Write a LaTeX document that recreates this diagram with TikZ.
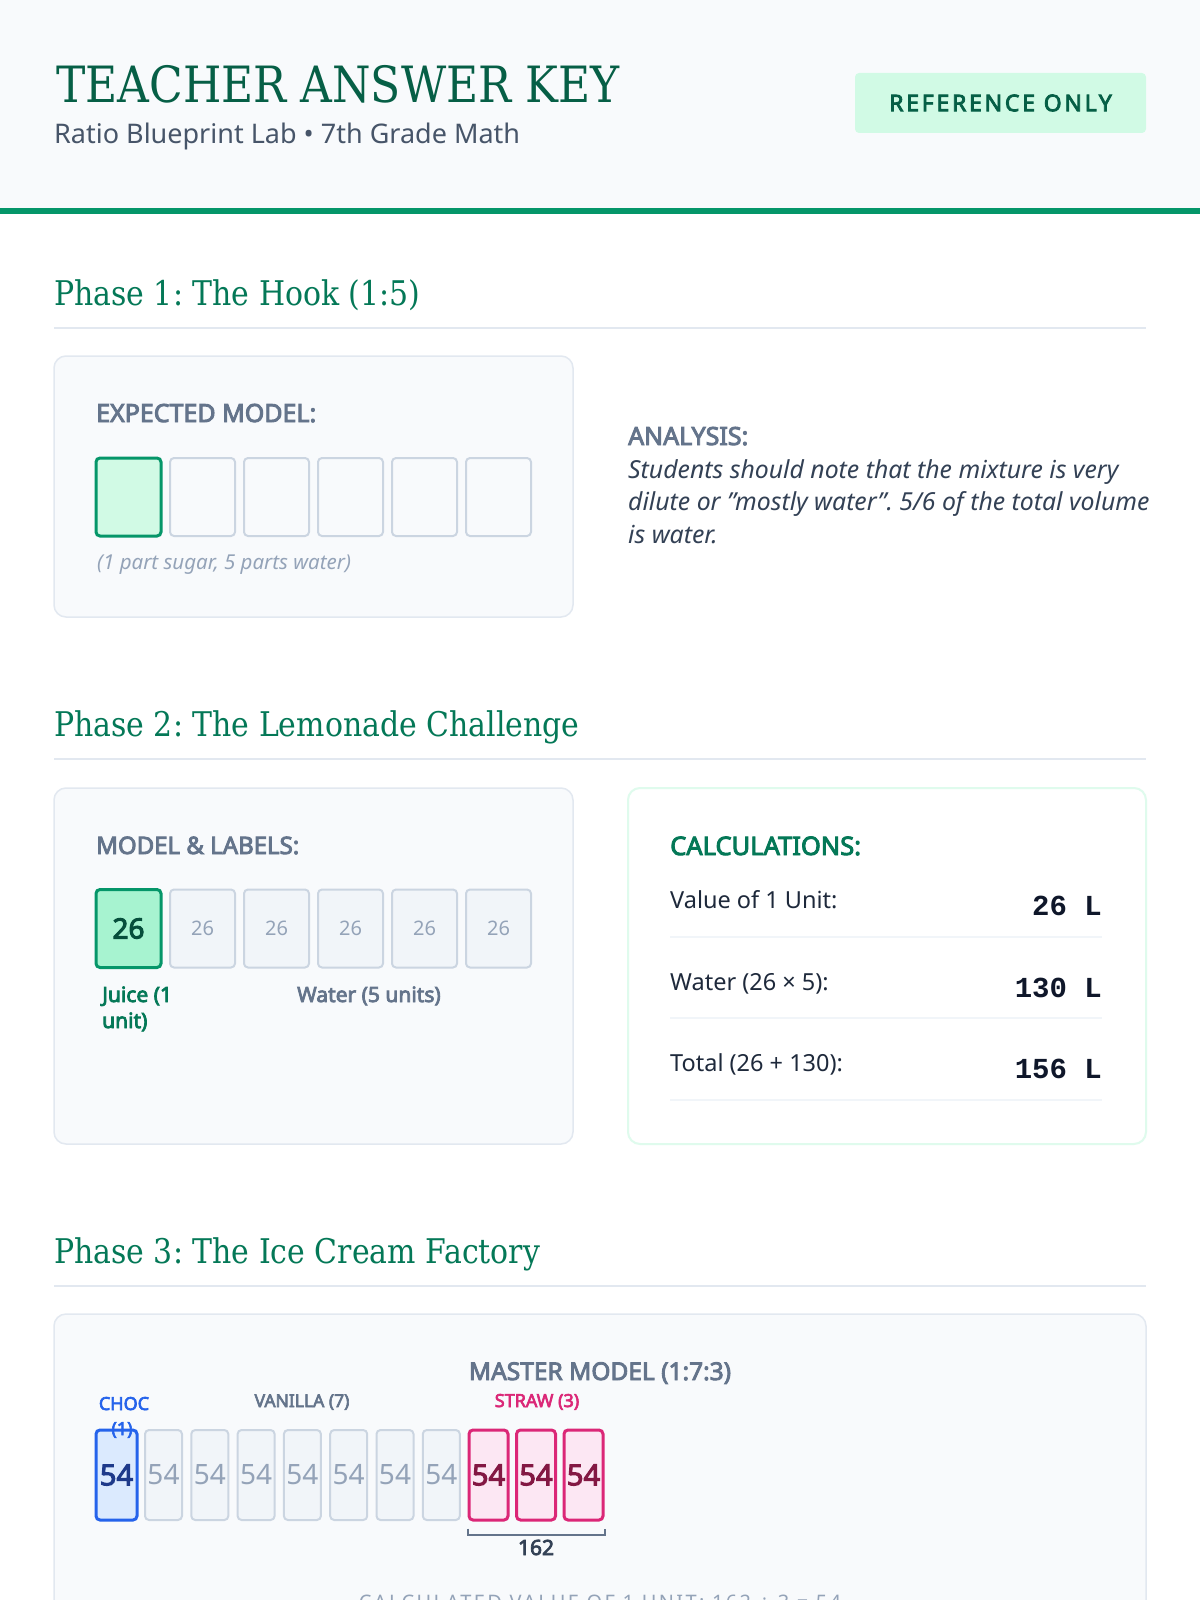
\documentclass[tikz,border=0pt]{standalone}
\usepackage{fontspec}
\setmainfont{Noto Sans}[AutoFakeBold=3.6]
\newfontfamily\slabfont[FakeStretch=0.88]{DejaVu Serif}
\newfontfamily\valfont{Liberation Mono}
\newfontfamily\trackfont[LetterSpace=12,AutoFakeBold=3.6]{Noto Sans}
\newcommand\fsz[1]{\fontsize{#1}{#1}\selectfont}
\frenchspacing

\definecolor{headbg}{HTML}{F8FAFC}
\definecolor{brandgreen}{HTML}{059669}
\definecolor{inkgreen}{HTML}{065F46}
\definecolor{titlegreen}{HTML}{047857}
\definecolor{rulegray}{HTML}{E2E8F0}
\definecolor{cardbg}{HTML}{F8FAFC}
\definecolor{slate}{HTML}{64748B}
\definecolor{subslate}{HTML}{475569}
\definecolor{bodyslate}{HTML}{334155}
\definecolor{mint}{HTML}{D1FAE5}
\definecolor{mintdeep}{HTML}{A7F3D0}
\definecolor{darkmint}{HTML}{064E3B}
\definecolor{calcink}{HTML}{1E293B}
\definecolor{valink}{HTML}{0F172A}
\definecolor{boxgray}{HTML}{F1F5F9}
\definecolor{boxline}{HTML}{CBD5E1}
\definecolor{numgray}{HTML}{94A3B8}
\definecolor{chocblue}{HTML}{2563EB}
\definecolor{chocfill}{HTML}{DBEAFE}
\definecolor{chocink}{HTML}{1E3A8A}
\definecolor{strawpink}{HTML}{DB2777}
\definecolor{strawfill}{HTML}{FCE7F3}
\definecolor{strawink}{HTML}{831843}

\begin{document}
\begin{tikzpicture}[x=1pt,y=-1pt,
    lbl/.style={inner sep=0pt,anchor=base west},
    phase/.style={lbl,text=titlegreen,font=\slabfont\fsz{34}},
    cardlabel/.style={lbl,text=slate,font=\bfseries\fsz{24}},
    card/.style={draw=rulegray,fill=cardbg,line width=1.5pt,rounded corners=12pt},
    unit/.style={draw=boxline,line width=2pt,rounded corners=4pt,inner sep=0pt,
      minimum width=65pt,minimum height=78pt},
    sugar/.style={unit,draw=brandgreen,fill=mint,line width=3pt},
    water/.style={unit,fill=boxgray,text=numgray,font=\fsz{20}},
    juice/.style={unit,draw=brandgreen,fill=mintdeep,line width=3pt,
      text=darkmint,font=\bfseries\fsz{28}},
    calcrow/.style={lbl,text=calcink,font=\fsz{23.5}},
    calcval/.style={inner sep=0pt,anchor=base east,text=valink,font=\valfont\bfseries\fsz{29}},
    scoop/.style={draw=boxline,fill=boxgray,line width=2pt,rounded corners=4pt,inner sep=0pt,
      minimum width=37pt,minimum height=90pt,text=numgray,font=\fsz{28}},
    choc/.style={scoop,draw=chocblue,fill=chocfill,line width=3pt,minimum width=41pt,
      text=chocink,font=\bfseries\fsz{29}},
    straw/.style={scoop,draw=strawpink,fill=strawfill,line width=3pt,minimum width=39pt,
      text=strawink,font=\bfseries\fsz{29}},
    flavour/.style={inner sep=0pt,anchor=base,font=\bfseries\fsz{17.5}}]
  \useasboundingbox (0,0) rectangle (1200,1600);
  \fill[white] (0,0) rectangle (1200,1600);

  %% header
  \fill[headbg] (0,0) rectangle (1200,208);
  \fill[brandgreen] (0,208) rectangle (1200,214);
  \node[lbl,text=inkgreen,font=\slabfont\fsz{50}] (title) at (56,103) {TEACHER ANSWER KEY};
  \node[lbl,text=subslate,font=\fsz{27}] (subtitle) at (54,143) {Ratio Blueprint Lab • 7th Grade Math};
  \node[fill=mint,rounded corners=4pt,minimum width=291pt,minimum height=60pt,inner sep=0pt,
    text=inkgreen,font=\trackfont\bfseries\fsz{23}] (badge) at (1000.5,103) {REFERENCE ONLY};

  %% phase 1
  \node[phase] (p1) at (54,305) {Phase 1: The Hook (1:5)};
  \draw[rulegray,line width=2pt] (54,328) -- (1146,328);
  \draw[card] (54,356) rectangle (573,617);
  \node[cardlabel,font=\bfseries\fsz{25}] (expected) at (96,422) {EXPECTED MODEL:};
  \node[sugar] (h1) at (128.5,497) {};
  \node[unit] (h2) at (202.5,497) {};
  \node[unit] (h3) at (276.5,497) {};
  \node[unit] (h4) at (350.5,497) {};
  \node[unit] (h5) at (424.5,497) {};
  \node[unit] (h6) at (498.5,497) {};
  \node[lbl,text=numgray,font=\itshape\fsz{20.5}] (hooknote) at (97,569) {(1 part sugar, 5 parts water)};

  \node[cardlabel,font=\bfseries\fsz{25}] (analysis) at (628,445) {ANALYSIS:};
  \node[lbl,text=bodyslate,font=\itshape\fsz{24.8}] (an1) at (628,478) {Students should note that the mixture is very};
  \node[lbl,text=bodyslate,font=\itshape\fsz{24.8}] (an2) at (628,510.5) {dilute or "mostly water". 5/6 of the total volume};
  \node[lbl,text=bodyslate,font=\itshape\fsz{24.8}] (an3) at (628,543) {is water.};

  %% phase 2
  \node[phase] (p2) at (54,736) {Phase 2: The Lemonade Challenge};
  \draw[rulegray,line width=2pt] (54,759) -- (1146,759);
  \draw[card] (54,788) rectangle (573,1144);
  \node[cardlabel] (model) at (96,854) {MODEL \& LABELS:};
  \node[juice] (l1) at (128.5,928.5) {26};
  \node[water] (l2) at (202.5,928.5) {26};
  \node[water] (l3) at (276.5,928.5) {26};
  \node[water] (l4) at (350.5,928.5) {26};
  \node[water] (l5) at (424.5,928.5) {26};
  \node[water] (l6) at (498.5,928.5) {26};
  \node[lbl,text=titlegreen,font=\bfseries\fsz{21}] (juice1) at (102,1002) {Juice (1};
  \node[lbl,text=titlegreen,font=\bfseries\fsz{21}] (juice2) at (102,1028) {unit)};
  \node[lbl,text=slate,font=\bfseries\fsz{21}] (waterlbl) at (297,1002) {Water (5 units)};

  \draw[draw=mint!70,fill=white,line width=2pt,rounded corners=12pt] (628,788) rectangle (1146,1144);
  \node[lbl,text=titlegreen,font=\bfseries\fsz{25.5}] (calc) at (670,855) {CALCULATIONS:};
  \node[calcrow] (unitrow) at (670,908) {Value of 1 Unit:};
  \node[calcval] (unitval) at (1102,915) {26 L};
  \draw[boxgray,line width=2pt] (670,937) -- (1102,937);
  \node[calcrow] (waterrow) at (670,990) {Water (26 × 5):};
  \node[calcval] (waterval) at (1102,997) {130 L};
  \draw[boxgray,line width=2pt] (670,1018) -- (1102,1018);
  \node[calcrow] (totalrow) at (670,1071) {Total (26 + 130):};
  \node[calcval] (totalval) at (1102,1078) {156 L};
  \draw[boxgray,line width=2pt] (670,1100) -- (1102,1100);

  %% phase 3
  \node[phase] (p3) at (54,1263) {Phase 3: The Ice Cream Factory};
  \draw[rulegray,line width=2pt] (54,1286) -- (1146,1286);
  \draw[card] (54,1314) rectangle (1146,1660);
  \node[inner sep=0pt,anchor=base,text=slate,font=\bfseries\fsz{24.5}] (master) at (600,1380) {MASTER MODEL (1:7:3)};
  \node[flavour,text=slate] (vanlbl) at (302,1407) {VANILLA (7)};
  \node[flavour,text=strawpink,font=\bfseries\fsz{18}] (strawlbl) at (537,1407) {STRAW (3)};
  \node[choc] (c1) at (116.5,1475) {54};
  \node[scoop] (v1) at (163.5,1475) {54};
  \node[scoop] (v2) at (209.8,1475) {54};
  \node[scoop] (v3) at (256.1,1475) {54};
  \node[scoop] (v4) at (302.4,1475) {54};
  \node[scoop] (v5) at (348.7,1475) {54};
  \node[scoop] (v6) at (395,1475) {54};
  \node[scoop] (v7) at (441.3,1475) {54};
  \node[straw] (s1) at (488.5,1475) {54};
  \node[straw] (s2) at (536,1475) {54};
  \node[straw] (s3) at (583.5,1475) {54};
  \node[flavour,text=chocblue,font=\bfseries\fsz{18}] (choclbl) at (124,1410) {CHOC};
  \node[flavour,text=chocblue,font=\bfseries\fsz{18}] (choc1) at (122,1435) {(1)};
  \draw[slate,line width=2pt] ([yshift=-7pt]s1.south west) -- ([yshift=-13pt]s1.south west)
    -- ([yshift=-13pt]s3.south east) -- ([yshift=-7pt]s3.south east);
  \node[inner sep=0pt,anchor=base,text=bodyslate,font=\bfseries\fsz{21}] (straw162) at (536,1555) {162};
  \node[inner sep=0pt,anchor=base,text=numgray,font=\trackfont\fsz{20}] (unitcalc) at (600,1609)
    {CALCULATED VALUE OF 1 UNIT: 162 ÷ 3 = 54};
\end{tikzpicture}
\end{document}
